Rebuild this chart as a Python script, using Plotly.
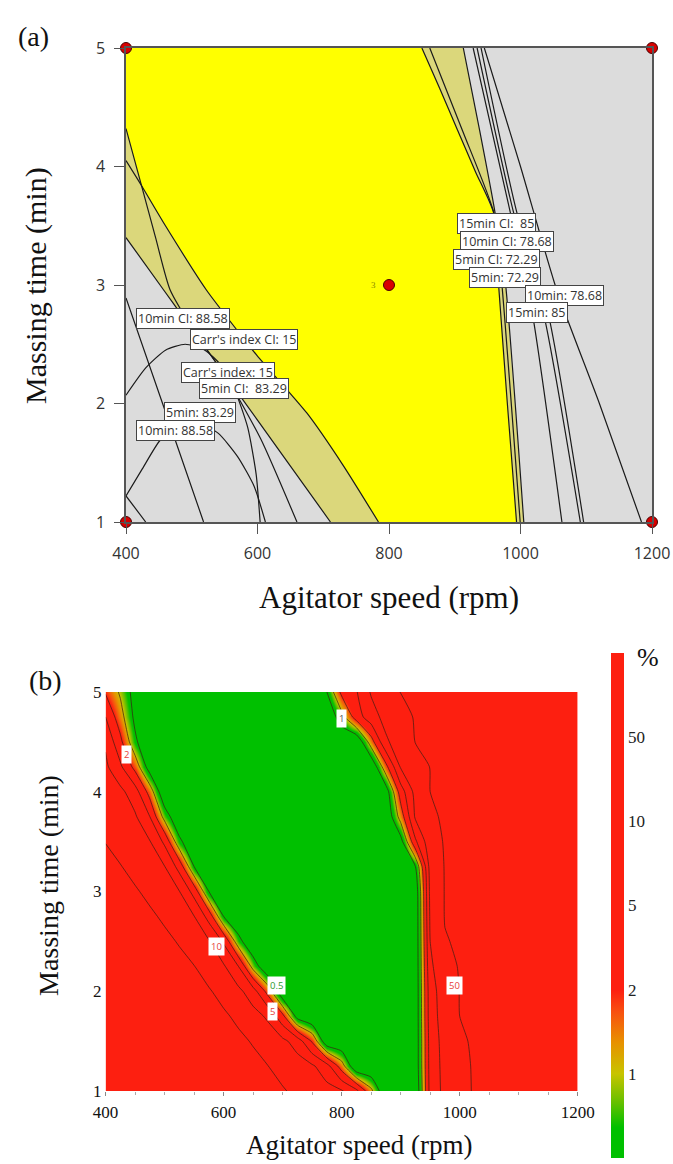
import numpy as np
import plotly.graph_objects as go

W, H = 673, 1164
SERIF = "Liberation Serif, Times New Roman, serif"
SANS = "Open Sans, DejaVu Sans, sans-serif"

# ================= Panel (a): design-space overlay =================
speed_ticks = [400, 600, 800, 1000, 1200]
time_ticks = [1, 2, 3, 4, 5]

# contour lines (agitator speed, massing time)
a_x = [400, 423.5, 445, 467, 505, 555, 605, 660]          # Carr's index: 15
a_y = [4.32, 3.84, 3.40, 2.96, 2.6, 2.2, 1.7, 1.0]
b_x = [400, 423.5, 460, 522, 580, 600, 675, 730, 784]      # Carr's index CI: 15
b_y = [4.05, 3.84, 3.5, 2.96, 2.54, 2.4, 1.92, 1.48, 1.0]
c_x = [400, 457, 488, 565, 640, 711]                       # 5min CI / 10min CI
c_y = [3.40, 2.96, 2.72, 2.13, 1.55, 1.0]
d_x = [400, 470, 518]                                      # 10min: 88.58
d_y = [2.89, 1.77, 1.0]
p1_x = [400, 430, 460, 490, 520, 545, 565, 585, 598, 604]
p1_y = [2.07, 2.3, 2.45, 2.5, 2.45, 2.32, 2.12, 1.8, 1.4, 1.0]
p2_x = [400, 425, 452, 480, 510, 540, 570, 595, 612]
p2_y = [1.22, 1.45, 1.69, 1.80, 1.83, 1.75, 1.55, 1.3, 1.0]
s_x = [400, 430]
s_y = [1.22, 1.0]

r1_x = [850, 877, 904, 932, 959, 966, 980, 994]            # yellow right edge
r1_y = [5.0, 4.66, 4.31, 3.95, 3.61, 3.05, 2.0, 1.0]
r2_x = [862, 912, 960, 971, 999.5]
r2_y = [5.0, 4.3, 3.6, 3.05, 1.0]
r3_x = [913, 938, 961, 976.6, 1005]
r3_y = [5.0, 4.3, 3.62, 3.045, 1.0]
r4_x = [928, 985, 1018, 1063]                              # 15min: 85
r4_y = [5.0, 3.6, 2.76, 1.0]
r5_x = [934, 990, 1035, 1091]
r5_y = [5.0, 3.6, 2.76, 1.0]
r6_x = [940, 995, 1042, 1096]
r6_y = [5.0, 3.6, 2.76, 1.0]
r7_x = [945, 1000, 1055, 1120, 1184]                       # 10min: 78.68
r7_y = [5.0, 4.0, 2.96, 2.0, 1.0]

label_text = ["10min CI: 88.58", "Carr's index CI: 15", "Carr's index: 15",
              "5min CI:  83.29", "5min: 83.29", "10min: 88.58",
              "15min CI:  85", "10min CI: 78.68", "5min CI: 72.29",
              "5min: 72.29", "10min: 78.68", "15min: 85"]
label_x = [486, 580, 555, 580, 512, 475, 963, 980, 963.5, 976, 1067.5, 1025]
label_y = [2.715, 2.54, 2.26, 2.13, 1.92, 1.77, 3.516, 3.367, 3.212, 3.066, 2.914, 2.764]

design_x = [400, 1200, 400, 1200, 800]
design_y = [5, 5, 1, 1, 3]

# ================= Panel (b): failure probability (%) =================
speed_grid = list(range(400, 1201, 25))
time_grid = [1.0, 1.25, 1.5, 1.75, 2.0, 2.25, 2.5, 2.75, 3.0,
             3.25, 3.5, 3.75, 4.0, 4.25, 4.5, 4.75, 5.0]
g = 0.1
prob = [
    [100]*9 + [91, 78.5, 66, 53.5, 43, 33.6, 24, 14, 6.4, 1.25] + [g, g, g]
    + [6.8, 21, 41, 53, 58, 63, 68, 73, 78, 83, 88],
    [100]*8 + [88, 75.5, 63, 50.5, 39, 28, 16, 6.9, 1.5] + [g]*4
    + [0.17, 7.1, 22, 43, 53, 58, 63, 68, 73, 78, 83, 88],
    [100]*6 + [98, 85, 72.5, 60, 47, 33, 19.6, 7.8, 1.88, 0.17] + [g]*5
    + [0.17, 7.3, 24, 46, 54, 59, 64, 69, 74, 79, 84, 89],
    [100, 100, 100, 100, 100, 95, 82, 70, 57, 42.5, 25, 9.2, 2.9, 0.33] + [g]*7
    + [0.17, 7.9, 27, 50, 55, 60, 65, 70, 75, 80, 85, 90],
    [100, 100, 100, 100, 92, 79, 66, 54, 38, 20, 7.2, 1.63] + [g]*9
    + [0.17, 8.1, 30, 51, 56, 61, 66, 71, 76, 81, 86, 91],
    [100, 100, 100, 89, 76, 64, 51, 33.6, 15, 5, 0.81] + [g]*10
    + [0.17, 9.1, 38, 53, 58, 63, 68, 73, 78, 83, 88, 93],
    [100, 98, 86, 73, 61, 47, 30, 13.6, 4.6, 0.69] + [g]*11
    + [0.17, 10, 48, 55, 60, 65, 70, 75, 80, 85, 90, 95],
    [95, 83, 70, 58, 44, 27.5, 11, 3.9, 0.5] + [g]*12
    + [0.17, 16, 52, 57, 61, 66, 71, 76, 81, 86, 91, 96],
    [80, 67, 55, 41, 26, 11, 3.9, 0.5] + [g]*13
    + [0.2, 20, 52, 57, 62, 67, 72, 77, 82, 87, 92, 97],
    [64, 52, 38, 25, 11, 3.9, 0.5] + [g]*14
    + [0.5, 27, 52, 57, 62, 67, 72, 77, 82, 87, 92, 97],
    [49, 36, 24, 12, 4.4, 0.63] + [g]*14
    + [0.33, 4.5, 37, 53, 58, 63, 68, 73, 78, 83, 88, 93, 98],
    [46, 31, 15, 5, 0.81] + [g]*15
    + [1.43, 16, 46, 54, 59, 64, 69, 74, 79, 84, 89, 94, 99],
    [37, 20, 7.2, 1.6] + [g]*15
    + [0.27, 3.5, 24, 50, 55, 60, 65, 70, 75, 80, 85, 90, 95, 100],
    [18, 5.9, 1.67, 0.27] + [g]*15
    + [1.7, 14, 34, 51, 56, 61, 66, 71, 76, 81, 86, 91, 96, 100],
    [9.3, 2.8, 0.6] + [g]*15
    + [1.57, 9.2, 31, 51, 56, 61, 66, 71, 76, 81, 86, 91, 96, 100, 100],
    [5, 1.4, 0.4] + [g]*13
    + [0.81, 3.5, 7.9, 23, 41, 52.6, 57.6, 62.6, 67.6, 72.6, 77.6, 82.6, 87.6, 92.6, 97.6, 100, 100],
    [1.9, 0.93, 0.33] + [g]*12
    + [0.5, 2.8, 4.8, 14, 33, 51, 56, 61, 66, 71, 76, 81, 86, 91, 96, 100, 100, 100],
]
cb_values = [0.1, 0.5, 1, 2, 5, 10, 50, 100]
cb_ticktext = ["0.5", "1", "2", "5", "10", "50"]

b_label_text = ["2", "1", "10", "0.5", "5", "50"]
b_label_x = [436, 800, 588, 690, 683, 992]
b_label_y = [4.37, 4.73, 2.45, 2.06, 1.80, 2.06]
b_label_col = ["#e8413a", "#555555", "#e8413a", "#2f9a2f", "#e8413a", "#e8413a"]

# ---------------------------------------------------------------------
prob_arr = np.array(prob, dtype=float)
assert prob_arr.shape == (len(time_grid), len(speed_grid))
level_index = np.interp(prob_arr, cb_values, [-1, 0, 1, 2, 3, 4, 5, 6])

fig = go.Figure()

GRAY, YELLOW, KHAKI = "#dcdcdc", "#ffff00", "#dbd77b"


def poly(xs, ys, color):
    fig.add_trace(go.Scatter(x=xs, y=ys, fill="toself", fillcolor=color, mode="lines",
                             line=dict(width=0, color=color), hoverinfo="skip",
                             showlegend=False, xaxis="x", yaxis="y"))


poly([400, 1200, 1200, 400], [5, 5, 1, 1], GRAY)
poly([400] + r1_x + [784] + b_x[1:-1][::-1] + [a_x[0]],
     [5] + r1_y + [1.0] + b_y[1:-1][::-1] + [a_y[0]], YELLOW)
poly(a_x[:2] + b_x[2:] + c_x[::-1], a_y[:2] + b_y[2:] + c_y[::-1], KHAKI)
poly(r1_x + r3_x[::-1], r1_y + r3_y[::-1], KHAKI)

for lx, ly in [(a_x, a_y), (b_x, b_y), (c_x, c_y), (d_x, d_y), (p1_x, p1_y),
               (p2_x, p2_y), (s_x, s_y), (r1_x, r1_y), (r2_x, r2_y), (r3_x, r3_y),
               (r4_x, r4_y), (r5_x, r5_y), (r6_x, r6_y), (r7_x, r7_y)]:
    fig.add_trace(go.Scatter(x=lx, y=ly, mode="lines", line=dict(color="#1a1a1a", width=1.2, shape="spline", smoothing=0.6),
                             hoverinfo="skip", showlegend=False, xaxis="x", yaxis="y"))

fig.add_trace(go.Scatter(x=design_x, y=design_y, mode="markers",
                         marker=dict(size=11, color="#d80000", line=dict(color="#4a0000", width=1)),
                         cliponaxis=False, showlegend=False, xaxis="x", yaxis="y"))

# panel (b)
colorscale = [[0.0, "#00c000"], [0.06, "#00c000"], [0.11, "#66c000"], [0.167, "#c8c400"],
              [0.23, "#e89000"], [0.29, "#f85010"], [0.333, "#fd1f10"], [1.0, "#fd1f10"]]
fig.add_trace(go.Heatmap(
    x=speed_grid, y=time_grid, z=level_index, zmin=0, zmax=6, zsmooth="best",
    colorscale=colorscale, hoverinfo="skip", xaxis="x2", yaxis="y2",
    colorbar=dict(x=611 / W, xanchor="left", xpad=0, y=1 - 905.5 / H, yanchor="middle", ypad=0,
                  len=505, lenmode="pixels", thickness=13, thicknessmode="pixels",
                  tickvals=[0, 1, 2, 3, 4, 5], ticktext=cb_ticktext, ticks="",
                  outlinewidth=0, tickfont=dict(family=SERIF, size=17, color="#222"))))
fig.add_trace(go.Contour(
    x=speed_grid, y=time_grid, z=level_index, showscale=False, hoverinfo="skip",
    contours=dict(start=0, end=5, size=1, coloring="none"),
    line=dict(color="rgba(60,30,20,0.7)", width=1, smoothing=0.6),
    xaxis="x2", yaxis="y2"))

ann = []
for t, x, y in zip(label_text, label_x, label_y):
    ann.append(dict(text=t, x=x, y=y, xref="x", yref="y", showarrow=False,
                    font=dict(family=SANS, size=12.5, color="#333"), bgcolor="white",
                    bordercolor="#444", borderwidth=1, borderpad=1))
ann.append(dict(text="3", x=777, y=3.0, xref="x", yref="y", showarrow=False,
                font=dict(family=SERIF, size=9, color="#8a8a00")))
for t, x, y, c in zip(b_label_text, b_label_x, b_label_y, b_label_col):
    ann.append(dict(text=t, x=x, y=y, xref="x2", yref="y2", showarrow=False,
                    font=dict(family=SANS, size=9.5, color=c), bgcolor="white",
                    borderpad=2))


def pann(text, px, py, size, angle=0):
    ann.append(dict(text=text, x=px / W, y=1 - py / H, xref="paper", yref="paper",
                    showarrow=False, textangle=angle, xanchor="center", yanchor="middle",
                    font=dict(family=SERIF, size=size, color="#111")))


pann("(a)", 33, 36, 28)
pann("(b)", 46, 680, 28)
pann("Agitator speed (rpm)", 389, 597, 31)
pann("Massing time (min)", 36, 286, 30, -90)
pann("Agitator speed (rpm)", 359, 1145, 27)
pann("Massing time (min)", 48, 886, 28, -90)
pann("%", 648, 657, 26)

axis_a = dict(showgrid=False, zeroline=False, ticks="outside", ticklen=10, tickcolor="#555",
              showline=True, mirror=True, linecolor="#555", linewidth=1.5,
              tickfont=dict(family=SANS, size=16, color="#333"), ticklabelstandoff=6)
axis_b = dict(showgrid=False, zeroline=False, showline=False,
              tickfont=dict(family=SERIF, size=17, color="#111"))

fig.update_layout(
    width=W, height=H, margin=dict(l=0, r=0, t=0, b=0, autoexpand=False),
    paper_bgcolor="white", plot_bgcolor="white", showlegend=False,
    xaxis=dict(domain=[126 / W, 652 / W], range=[400, 1200], tickvals=speed_ticks,
               anchor="y", automargin=False, **axis_a),
    yaxis=dict(domain=[1 - 522 / H, 1 - 48 / H], range=[1, 5], tickvals=time_ticks,
               anchor="x", automargin=False, **axis_a),
    xaxis2=dict(domain=[105.6 / W, 577.7 / W], range=[400, 1200], tickvals=speed_ticks,
                anchor="y2", ticks="outside", ticklen=4, tickcolor="#888", automargin=False,
                minor=dict(dtick=50, ticks="outside", ticklen=3, tickcolor="#aaa"),
                ticklabelstandoff=2, **axis_b),
    yaxis2=dict(domain=[1 - 1091 / H, 1 - 692 / H], range=[1, 5], tickvals=time_ticks,
                anchor="x2", ticks="", ticklabelstandoff=3, automargin=False, **axis_b),
    annotations=ann,
)

fig.write_html("out.html")
